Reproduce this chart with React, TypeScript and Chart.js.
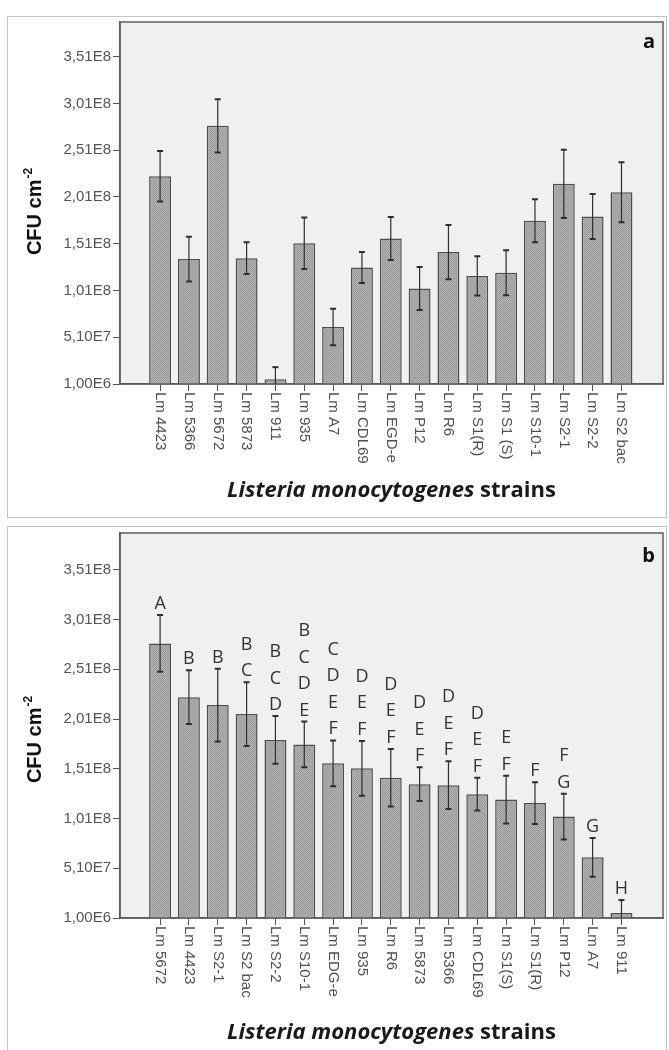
import React, { useEffect, useRef } from "react";
import { Chart, registerables } from "chart.js";

Chart.register(...registerables);

// ---------------- data ----------------
const CATEGORIES_A = [
  "Lm 4423", "Lm 5366", "Lm 5672", "Lm 5873", "Lm 911", "Lm 935", "Lm A7",
  "Lm CDL69", "Lm EGD-e", "Lm P12", "Lm R6", "Lm S1(R)", "Lm S1 (S)",
  "Lm S10-1", "Lm S2-1", "Lm S2-2", "Lm S2 bac",
];
const MEANS_A = [
  2.23e8, 1.345e8, 2.77e8, 1.355e8, 6.0e6, 1.515e8, 6.2e7,
  1.255e8, 1.565e8, 1.03e8, 1.42e8, 1.165e8, 1.2e8,
  1.755e8, 2.15e8, 1.8e8, 2.06e8,
];
const ERRORS_A = [
  2.7e7, 2.4e7, 2.85e7, 1.7e7, 1.3e7, 2.75e7, 1.95e7,
  1.65e7, 2.3e7, 2.3e7, 2.9e7, 2.1e7, 2.4e7,
  2.3e7, 3.65e7, 2.4e7, 3.2e7,
];

const CATEGORIES_B = [
  "Lm 5672", "Lm 4423", "Lm S2-1", "Lm S2 bac", "Lm S2-2", "Lm S10-1", "Lm EDG-e",
  "Lm 935", "Lm R6", "Lm 5873", "Lm 5366", "Lm CDL69", "Lm S1(S)", "Lm S1(R)",
  "Lm P12", "Lm A7", "Lm 911",
];
const MEANS_B = [
  2.77e8, 2.23e8, 2.15e8, 2.06e8, 1.8e8, 1.755e8, 1.565e8,
  1.515e8, 1.42e8, 1.355e8, 1.345e8, 1.255e8, 1.2e8, 1.165e8,
  1.03e8, 6.2e7, 6.0e6,
];
const ERRORS_B = [
  2.85e7, 2.7e7, 3.65e7, 3.2e7, 2.4e7, 2.3e7, 2.3e7,
  2.75e7, 2.9e7, 1.7e7, 2.4e7, 1.65e7, 2.4e7, 2.1e7,
  2.3e7, 1.95e7, 1.3e7,
];
const LETTERS_B = [
  ["A"], ["B"], ["B"], ["B", "C"], ["B", "C", "D"], ["B", "C", "D", "E"], ["C", "D", "E", "F"],
  ["D", "E", "F"], ["D", "E", "F"], ["D", "E", "F"], ["D", "E", "F"], ["D", "E", "F"], ["E", "F"], ["F"],
  ["F", "G"], ["G"], ["H"],
];

const Y_MIN = 1e6;
const Y_MAX = 3.88e8;
const Y_TICKS = [1e6, 5.1e7, 1.01e8, 1.51e8, 2.01e8, 2.51e8, 3.01e8, 3.51e8];
const Y_TICK_LABELS = ["1,00E6", "5,10E7", "1,01E8", "1,51E8", "2,01E8", "2,51E8", "3,01E8", "3,51E8"];

const X_TITLE_ITALIC = "Listeria monocytogenes";
const X_TITLE_REST = " strains";
const Y_TITLE = "CFU cm";
const Y_TITLE_SUP = "-2";

// ---------------- layout ----------------
const W = 669;
const PLOT_LEFT = 120;
const PLOT_RIGHT = 663;
const X_MIN = -1.39;
const X_MAX = 17.44;

type PanelProps = {
  top: number;
  height: number;
  plotTop: number;
  plotBottom: number;
  categories: string[];
  means: number[];
  errors: number[];
  letters?: string[][];
  tag: string;
  tagBaseline: number;
  titleBaseline: number;
  yTitleCenter: number;
};

function makePattern(ctx: CanvasRenderingContext2D) {
  const c = document.createElement("canvas");
  c.width = 2;
  c.height = 2;
  const g = c.getContext("2d")!;
  g.fillStyle = "#b2b2b2";
  g.fillRect(0, 0, 2, 2);
  g.fillStyle = "#9a9a9a";
  g.fillRect(0, 0, 1, 1);
  g.fillRect(1, 1, 1, 1);
  return ctx.createPattern(c, "repeat") || "#a6a6a6";
}

function Panel(p: PanelProps) {
  const ref = useRef<HTMLCanvasElement>(null);

  useEffect(() => {
    const canvas = ref.current!;
    const ctx0 = canvas.getContext("2d")!;
    const pattern = makePattern(ctx0);

    const decor = {
      id: "panelDecor",
      beforeDraw(chart: any) {
        const { ctx, chartArea: a } = chart;
        ctx.save();
        ctx.fillStyle = "#f0f0f0";
        ctx.fillRect(a.left, a.top, a.right - a.left, a.bottom - a.top);
        ctx.restore();
      },
      afterDatasetsDraw(chart: any) {
        const { ctx, chartArea: a } = chart;
        const xs = chart.scales.x;
        const ys = chart.scales.y;
        ctx.save();

        // plot frame
        ctx.strokeStyle = "#5c5c5c";
        ctx.lineWidth = 1.5;
        ctx.strokeRect(a.left, a.top, a.right - a.left, a.bottom - a.top);

        // error bars
        ctx.strokeStyle = "#2e2e2e";
        p.means.forEach((m, i) => {
          const e = p.errors[i];
          const x = xs.getPixelForValue(i);
          const yT = ys.getPixelForValue(m + e);
          const lowClipped = m - e <= Y_MIN;
          const yB = ys.getPixelForValue(Math.max(m - e, Y_MIN));
          ctx.lineWidth = 1.2;
          ctx.beginPath();
          ctx.moveTo(x, yT);
          ctx.lineTo(x, yB);
          ctx.stroke();
          ctx.lineWidth = 2;
          ctx.beginPath();
          ctx.moveTo(x - 3, yT);
          ctx.lineTo(x + 3, yT);
          if (!lowClipped) {
            ctx.moveTo(x - 3, yB);
            ctx.lineTo(x + 3, yB);
          }
          ctx.stroke();

          // significance letters
          if (p.letters) {
            const L = p.letters[i];
            ctx.fillStyle = "#333333";
            ctx.font = "18px 'Open Sans'";
            ctx.textAlign = "center";
            ctx.textBaseline = "alphabetic";
            L.forEach((s, k) => {
              ctx.fillText(s, x, yT - 6 - (L.length - 1 - k) * 26.5);
            });
          }
        });

        // x category labels (rotated clockwise)
        ctx.fillStyle = "#505050";
        ctx.font = "15px 'Liberation Sans'";
        p.categories.forEach((lab, i) => {
          const x = xs.getPixelForValue(i);
          ctx.save();
          ctx.translate(x, a.bottom + 8);
          ctx.rotate(Math.PI / 2);
          ctx.textAlign = "left";
          ctx.textBaseline = "middle";
          ctx.fillText(lab, 0, 0);
          ctx.restore();
        });

        // x title
        const cx = (a.left + a.right) / 2;
        ctx.fillStyle = "#1a1a1a";
        ctx.textAlign = "left";
        ctx.textBaseline = "alphabetic";
        ctx.font = "italic bold 22px 'Open Sans'";
        const w1 = ctx.measureText(X_TITLE_ITALIC).width;
        ctx.font = "bold 22px 'Open Sans'";
        const w2 = ctx.measureText(X_TITLE_REST).width;
        const x0 = cx - (w1 + w2) / 2;
        ctx.font = "italic bold 22px 'Open Sans'";
        ctx.fillText(X_TITLE_ITALIC, x0, p.titleBaseline);
        ctx.font = "bold 22px 'Open Sans'";
        ctx.fillText(X_TITLE_REST, x0 + w1, p.titleBaseline);

        // y title
        ctx.save();
        ctx.translate(34, p.yTitleCenter);
        ctx.rotate(-Math.PI / 2);
        ctx.fillStyle = "#111111";
        ctx.font = "bold 20px 'Liberation Sans'";
        const wm = ctx.measureText(Y_TITLE).width;
        ctx.font = "bold 12px 'Liberation Sans'";
        const ws = ctx.measureText(Y_TITLE_SUP).width;
        const sx = -(wm + ws) / 2;
        ctx.textBaseline = "alphabetic";
        ctx.font = "bold 20px 'Liberation Sans'";
        ctx.fillText(Y_TITLE, sx, 7);
        ctx.font = "bold 12px 'Liberation Sans'";
        ctx.fillText(Y_TITLE_SUP, sx + wm + 1, -2);
        ctx.restore();

        // panel tag
        ctx.fillStyle = "#111111";
        ctx.font = "bold 20px 'Open Sans'";
        ctx.textAlign = "right";
        ctx.fillText(p.tag, 655, p.tagBaseline);

        ctx.restore();
      },
    };

    const chart = new Chart(canvas, {
      type: "bar",
      data: {
        datasets: [
          {
            data: p.means.map((v, i) => ({ x: i, y: v })),
            backgroundColor: pattern as any,
            borderColor: "#4e4e4e",
            borderWidth: 1.5,
            barPercentage: 0.76,
            categoryPercentage: 1,
          },
        ],
      },
      options: {
        animation: false,
        responsive: true,
        maintainAspectRatio: false,
        events: [],
        layout: { padding: { left: 0, right: W - PLOT_RIGHT, top: p.plotTop, bottom: 0 } },
        plugins: { legend: { display: false }, tooltip: { enabled: false } },
        scales: {
          x: {
            type: "linear",
            offset: false,
            min: X_MIN,
            max: X_MAX,
            afterBuildTicks: (s: any) => {
              s.ticks = p.categories.map((_, i) => ({ value: i }));
            },
            afterFit: (s: any) => {
              s.height = p.height - p.plotBottom;
            },
            ticks: { display: false },
            grid: { offset: false, drawOnChartArea: false, drawTicks: true, tickLength: 7, color: "#555555", lineWidth: 1 },
            border: { display: true, color: "#555555", width: 1.5 },
          },
          y: {
            type: "linear",
            min: Y_MIN,
            max: Y_MAX,
            afterBuildTicks: (s: any) => {
              s.ticks = Y_TICKS.map((v) => ({ value: v }));
            },
            afterFit: (s: any) => {
              s.width = PLOT_LEFT;
            },
            ticks: {
              autoSkip: false,
              padding: 2,
              color: "#555555",
              font: { family: "'Liberation Sans'", size: 15 },
              callback: (_v: any, i: number) => Y_TICK_LABELS[i],
            },
            grid: { drawOnChartArea: false, drawTicks: true, tickLength: 7, color: "#555555", lineWidth: 1 },
            border: { display: true, color: "#555555", width: 1.5 },
          },
        },
      } as any,
      plugins: [decor],
    });

    let alive = true;
    if ((document as any).fonts && (document as any).fonts.ready) {
      (document as any).fonts.ready.then(() => {
        if (alive) chart.update();
      });
    }
    return () => {
      alive = false;
      chart.destroy();
    };
  }, []);

  return (
    <div style={{ position: "absolute", left: 0, top: p.top, width: W, height: p.height }}>
      <canvas ref={ref} />
    </div>
  );
}

export default function App() {
  return (
    <div
      style={{
        position: "absolute",
        left: 0,
        top: 0,
        width: W,
        height: 1050,
        overflow: "hidden",
        background: "#ffffff",
      }}
    >
      <div
        style={{
          position: "absolute",
          left: 7,
          top: 16,
          width: 660,
          height: 502,
          border: "1px solid #c4c4c4",
          boxSizing: "border-box",
        }}
      />
      <div
        style={{
          position: "absolute",
          left: 7,
          top: 526,
          width: 660,
          height: 600,
          border: "1px solid #c4c4c4",
          boxSizing: "border-box",
        }}
      />
      <Panel
        top={0}
        height={522}
        plotTop={22}
        plotBottom={384}
        categories={CATEGORIES_A}
        means={MEANS_A}
        errors={ERRORS_A}
        tag="a"
        tagBaseline={48}
        titleBaseline={497}
        yTitleCenter={212}
      />
      <Panel
        top={522}
        height={528}
        plotTop={11}
        plotBottom={396}
        categories={CATEGORIES_B}
        means={MEANS_B}
        errors={ERRORS_B}
        letters={LETTERS_B}
        tag="b"
        tagBaseline={40}
        titleBaseline={517}
        yTitleCenter={218}
      />
    </div>
  );
}
